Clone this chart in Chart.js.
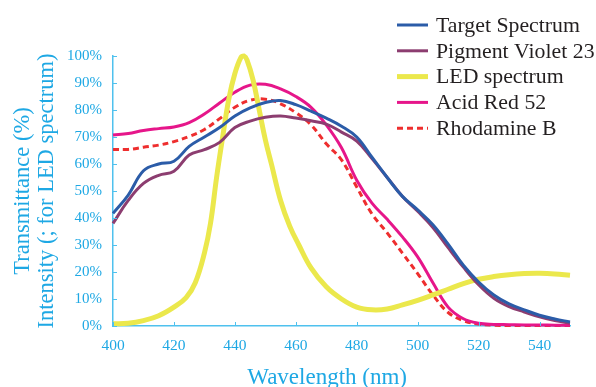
<!DOCTYPE html>
<html>
<head>
<meta charset="utf-8">
<style>
  html, body { margin: 0; padding: 0; background: #fff; }
  #wrap { width: 596px; height: 387px; }
</style>
<script src="https://cdn.jsdelivr.net/npm/chart.js@4/dist/chart.umd.min.js"></script>
</head>
<body>
<div id="wrap"><canvas id="myChart" width="596" height="387"></canvas></div>
<script>
// wavelengths (nm) for the transmittance curves
var wavelengths = [400, 405, 410, 415, 420, 425, 430, 435, 440, 445, 450, 455, 460, 465, 470,
  475, 480, 485, 490, 495, 500, 505, 510, 515, 520, 525, 530, 535, 540, 545, 550];

var targetSpectrum = [41.7, 48.5, 57.5, 60, 61, 66.5, 70, 73.5, 77.8, 80.8, 82.8, 83.5, 82, 79.6, 77,
  74, 70, 62.5, 55, 48, 43, 37.5, 30.3, 22.5, 16.3, 11.5, 8.2, 6, 4, 2.6, 1.5];
var pigmentViolet = [38, 46.5, 52.8, 55.8, 57.3, 63.3, 65.3, 68, 73.5, 75.9, 77.3, 77.8, 77, 76, 74.8,
  71.8, 68.5, 62, 55, 48, 42.5, 36.5, 29, 21.8, 15.3, 10.3, 7.2, 5.2, 3.4, 2, 1];
var acidRed = [70.7, 71.3, 72.4, 73.1, 73.7, 75.3, 78.5, 82.6, 86.6, 89.2, 89.5, 87.8, 85, 81, 74.5,
  66, 54, 45.5, 39.5, 33, 25.6, 16, 7, 2.7, 1, 0.6, 0.5, 0.4, 0.4, 0.3, 0.3];
var rhodamineB = [65.4, 65.4, 66.2, 67, 68.3, 70.2, 72.8, 76.8, 81, 83.6, 84, 82.3, 79, 74.5, 67.5,
  61.5, 51.5, 41.5, 34.5, 27, 19.4, 11.5, 5, 2, 0.7, 0.3, 0.2, 0.2, 0.2, 0.2, 0.2];

// LED spectrum has its own (finer) grid around the peak
var ledWavelengths = [400, 405, 410, 415, 420, 424, 427, 430, 432, 434, 436, 438, 440, 442, 443, 444,
  446, 448, 450, 452, 455, 458, 461, 465, 470, 475, 480, 485, 490, 495, 500, 505, 510, 515, 520,
  525, 530, 535, 540, 545, 550];
var ledSpectrum = [0.8, 1, 2, 3.8, 7, 10.5, 16, 27, 38, 55, 70, 84, 93.5, 99.5, 100, 98.5,
  91, 80, 69, 60, 46.5, 37, 30, 21.5, 14.5, 10, 7, 6, 6.3, 7.8, 9.5, 11.5, 13.6, 15.7, 17.3,
  18.3, 19, 19.4, 19.5, 19.3, 18.8];

var xTicks = [400, 420, 440, 460, 480, 500, 520, 540];
var yTicks = [0, 10, 20, 30, 40, 50, 60, 70, 80, 90, 100];

var cyan = '#1ea8e4';
var axisCyan = '#4fc1ee';
var serif = "'Liberation Serif', 'Times New Roman', serif";

function toPoints(xs, ys) {
  return ys.map(function (v, i) { return { x: xs[i], y: v }; });
}

// ticks drawn inside the plot, like the original
var innerTicks = {
  id: 'innerTicks',
  afterDatasetsDraw: function (chart) {
    var c = chart.ctx, xs = chart.scales.x, ys = chart.scales.y;
    var a = chart.chartArea;
    c.save();
    c.strokeStyle = axisCyan;
    c.lineWidth = 1;
    xTicks.forEach(function (t) {
      var px = Math.round(xs.getPixelForValue(t)) + 0.5;
      c.beginPath(); c.moveTo(px, a.bottom); c.lineTo(px, a.bottom - 4); c.stroke();
    });
    yTicks.forEach(function (t) {
      var py = Math.round(ys.getPixelForValue(t)) + 0.5;
      c.beginPath(); c.moveTo(a.left, py); c.lineTo(a.left + 4, py); c.stroke();
    });
    c.restore();
  }
};

// legend sits top right, partly above the plot
var sideLegend = {
  id: 'sideLegend',
  afterDraw: function (chart) {
    var c = chart.ctx;
    c.save();
    c.font = '21.8px ' + serif;
    c.textBaseline = 'middle';
    chart.data.datasets.forEach(function (ds, i) {
      var y = 25 + i * 25.8;
      c.strokeStyle = ds.borderColor;
      c.lineWidth = ds.borderWidth;
      c.setLineDash(ds.borderDash || []);
      c.beginPath(); c.moveTo(397, y); c.lineTo(428, y); c.stroke();
      c.setLineDash([]);
      c.fillStyle = '#231f20';
      c.fillText(ds.label, 436, y + 1);
    });
    c.restore();
  }
};

var ctx = document.getElementById('myChart').getContext('2d');

var myChart = new Chart(ctx, {
  type: 'line',
  data: {
    datasets: [
      { label: 'Target Spectrum', data: toPoints(wavelengths, targetSpectrum), borderColor: '#2b5ca8', borderWidth: 3 },
      { label: 'Pigment Violet 23', data: toPoints(wavelengths, pigmentViolet), borderColor: '#8c3d70', borderWidth: 3 },
      { label: 'LED spectrum', data: toPoints(ledWavelengths, ledSpectrum), borderColor: '#ebe84c', borderWidth: 5 },
      { label: 'Acid Red 52', data: toPoints(wavelengths, acidRed), borderColor: '#e6168a', borderWidth: 3 },
      { label: 'Rhodamine B', data: toPoints(wavelengths, rhodamineB), borderColor: '#ee2e2e', borderWidth: 3, borderDash: [6, 4] }
    ]
  },
  options: {
    responsive: false,
    animation: false,
    events: [],
    layout: { padding: { top: 56, right: 26, left: 0, bottom: 0 } },
    elements: {
      point: { radius: 0 },
      line: { tension: 0.4, fill: false }
    },
    datasets: { line: { clip: 6 } },
    plugins: {
      legend: { display: false },
      tooltip: { enabled: false }
    },
    scales: {
      x: {
        type: 'linear',
        min: 400,
        max: 550,
        afterFit: function (s) { s.height = 61; },
        afterBuildTicks: function (s) { s.ticks = xTicks.map(function (v) { return { value: v }; }); },
        grid: { drawOnChartArea: false, drawTicks: false },
        border: { color: axisCyan, width: 1.5 },
        ticks: { color: cyan, padding: 11, font: { family: serif, size: 15.5 }, maxRotation: 0 },
        title: {
          display: true,
          text: 'Wavelength (nm)\u00a0\u00a0\u00a0\u00a0\u00a0',
          color: cyan,
          padding: 0,
          font: { family: serif, size: 23, lineHeight: 0.75 }
        }
      },
      y: {
        min: 0,
        max: 100,
        afterFit: function (s) { s.width = 113; },
        afterBuildTicks: function (s) { s.ticks = yTicks.map(function (v) { return { value: v }; }); },
        grid: { drawOnChartArea: false, drawTicks: false },
        border: { color: axisCyan, width: 1.5 },
        ticks: {
          color: cyan,
          padding: 11,
          font: { family: serif, size: 15 },
          callback: function (v) { return v + '%'; }
        },
        title: {
          display: true,
          text: ['Transmittance (%)', 'Intensity (; for LED spectrum)'],
          color: cyan,
          padding: { top: 12, bottom: 0 },
          font: { family: serif, size: 22.5, lineHeight: 1.03 }
        }
      }
    }
  },
  plugins: [innerTicks, sideLegend]
});
</script>
</body>
</html>
